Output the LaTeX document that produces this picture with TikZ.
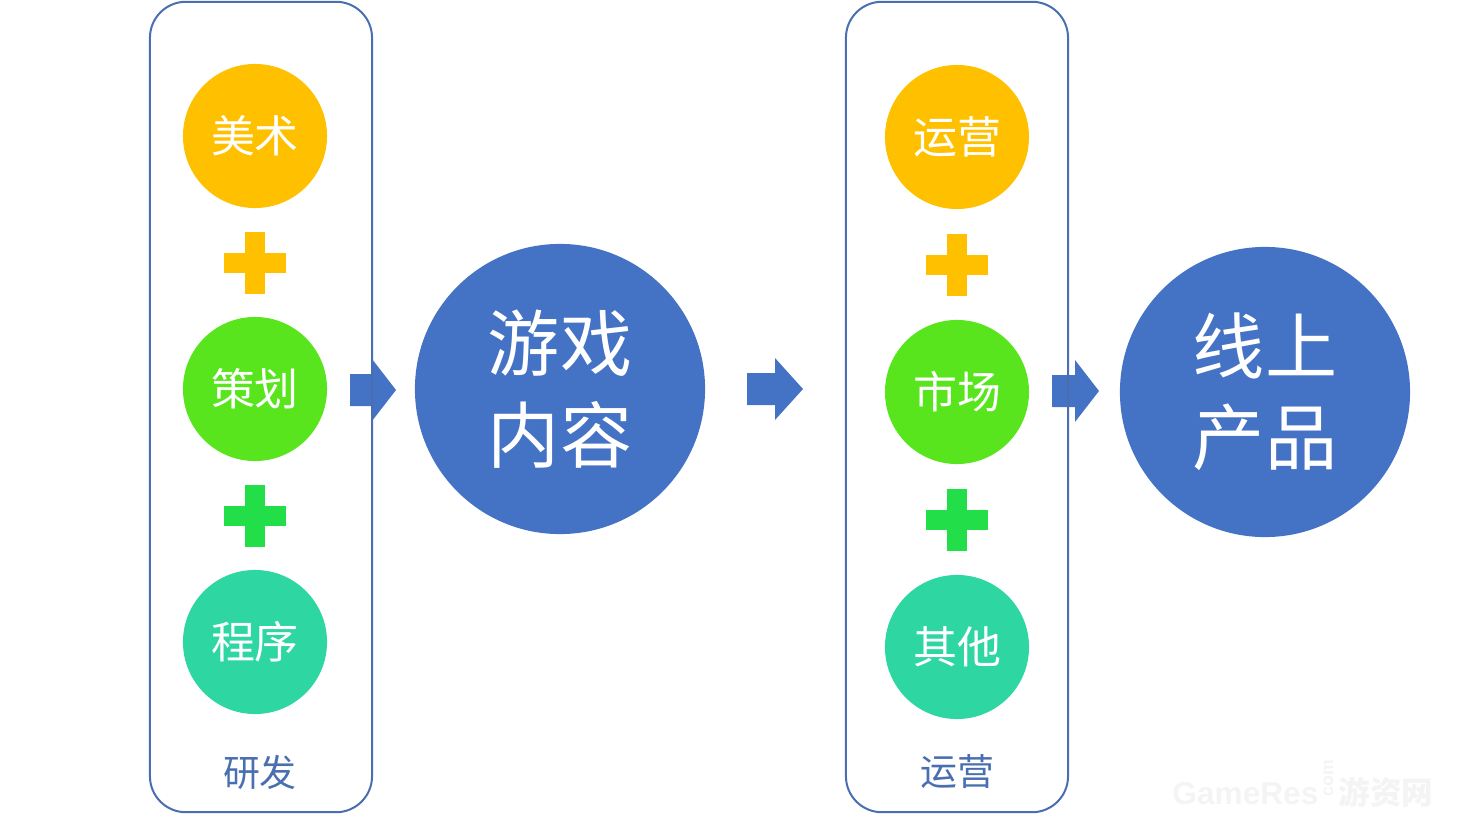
\documentclass[tikz,border=0pt]{standalone}
\usepackage{xcolor}
\usepackage{fontspec}
\setmainfont{Noto Sans CJK SC}
\newfontfamily\wmfont{Liberation Sans}
\usetikzlibrary{positioning}

\definecolor{framecol}{HTML}{4A6FB0}
\definecolor{arrowcol}{HTML}{4472C4}
\definecolor{artcol}{HTML}{FFC000}
\definecolor{plancol}{HTML}{58E51E}
\definecolor{pluscol}{HTML}{22DE48}
\definecolor{codecol}{HTML}{2ED6A2}

\begin{document}
\begin{tikzpicture}[x=0.01cm, y=-0.01cm,
    frame/.style={draw=framecol, line width=0.2mm, rounded corners=0.36cm, minimum width=2.22cm, minimum height=8.1cm, inner sep=0pt},
    small/.style={circle, inner sep=0pt, minimum size=1.44cm, text=white, font=\fontsize{12.5}{14}\selectfont},
    big/.style={circle, fill=arrowcol, inner sep=0pt, minimum size=2.9cm, text=white, align=center, font=\fontsize{20.5}{26}\selectfont},
    caption/.style={text=framecol, font=\fontsize{10.5}{12}\selectfont}]
    \useasboundingbox (0,0) rectangle (1468,818);

    % block arrows: start, neck, tip, middle
    \newcommand\blockarrow[4]{\fill[arrowcol] (#1,#4-16) -- (#2,#4-16) -- (#2,#4-31) -- (#3,#4) -- (#2,#4+31) -- (#2,#4+16) -- (#1,#4+16) -- cycle;}
    \newcommand\plussign[3]{\fill[#3] (#1-31,#2-10) rectangle (#1+31,#2+10); \fill[#3] (#1-10,#2-31) rectangle (#1+10,#2+31);}

    \blockarrow{350}{372}{396}{390}
    \blockarrow{747}{775}{803}{389}
    \blockarrow{1052}{1075}{1099}{391}

    % development
    \node (dev) [frame] at (261,407) {};
    \node (art) [small, fill=artcol] at (255,136) {美术};
    \node (plan) [small, fill=plancol] at (255,389) {策划};
    \node (code) [small, fill=codecol] at (255,642) {程序};
    \node (devlabel) [caption] at (260,772) {研发};
    \plussign{255}{263}{artcol}
    \plussign{255}{516}{pluscol}

    \node (content) [big] at (560,389) {游戏\\内容};

    % operation
    \node (ops) [frame] at (957,407) {};
    \node (run) [small, fill=artcol] at (957,137) {运营};
    \node (market) [small, fill=plancol] at (957,392) {市场};
    \node (other) [small, fill=codecol] at (957,647) {其他};
    \node (opslabel) [caption] at (957,772) {运营};
    \plussign{957}{265}{artcol}
    \plussign{957}{520}{pluscol}

    \node (product) [big] at (1265,392) {线上\\产品};

    % watermark
    \node (mark) [text=gray!9, font=\wmfont\bfseries\fontsize{9}{10}\selectfont, inner sep=0pt] at (1303,784) {GameRes\,\raisebox{0.5ex}{\rotatebox{90}{\tiny com}}\,{\rmfamily 游资网}};
\end{tikzpicture}
\end{document}
